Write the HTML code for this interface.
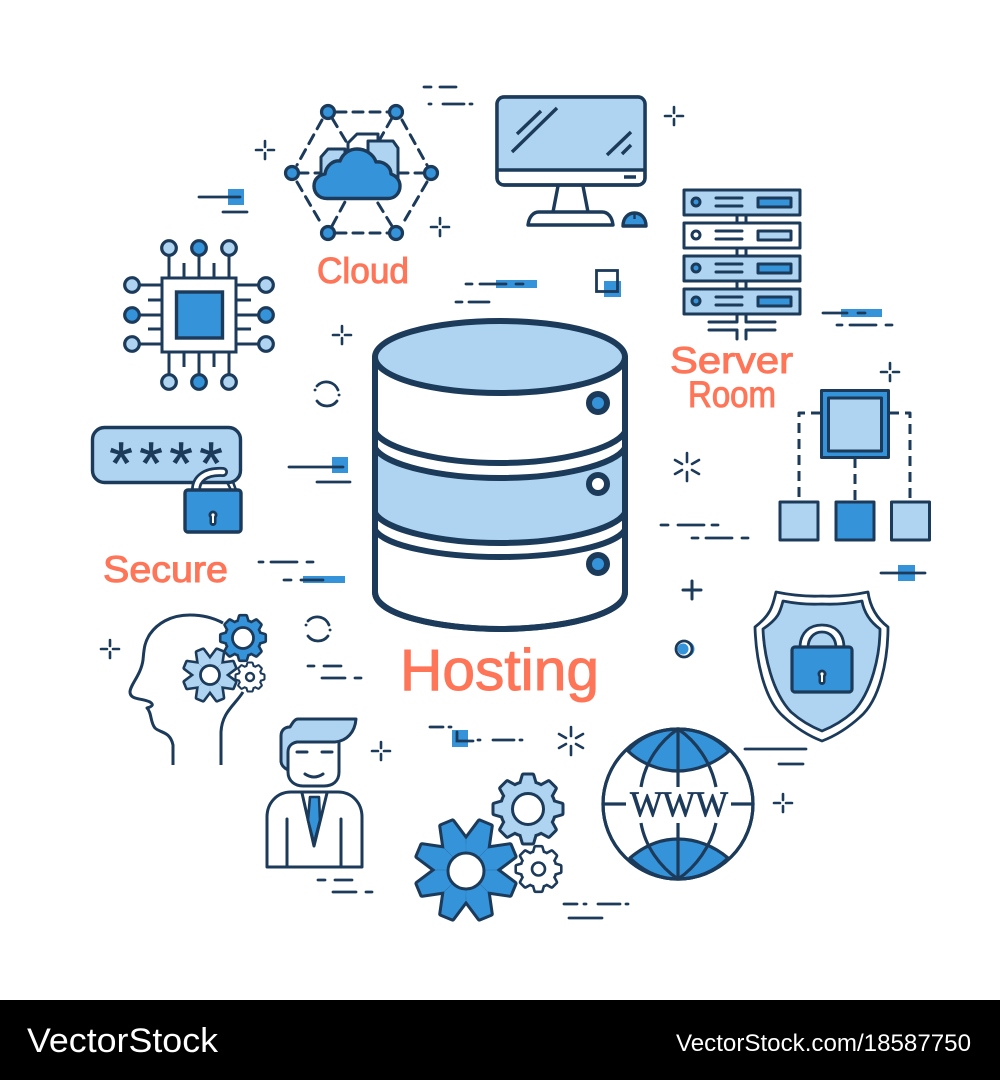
<!DOCTYPE html>
<html><head><meta charset="utf-8"><title>Hosting</title>
<style>html,body{margin:0;padding:0;background:#fff}svg{display:block}
.lbl{font-family:"Liberation Sans",sans-serif;fill:#fe7558;stroke:#fe7558;stroke-width:1}</style></head>
<body>
<svg xmlns="http://www.w3.org/2000/svg" width="1000" height="1080" viewBox="0 0 1000 1080">
<defs>
<polygon id="ts" points="0,0 -23,-56 -12,-99 12,-99 23,-56"/>
<polygon id="tc" points="0,0 -20,-76 -13,-100 13,-100 20,-76"/>
<g id="star" stroke-linejoin="round">
<use href="#ts" transform="rotate(22.5)"/><use href="#ts" transform="rotate(67.5)"/><use href="#ts" transform="rotate(112.5)"/><use href="#ts" transform="rotate(157.5)"/><use href="#ts" transform="rotate(202.5)"/><use href="#ts" transform="rotate(247.5)"/><use href="#ts" transform="rotate(292.5)"/><use href="#ts" transform="rotate(337.5)"/>
</g>
<g id="cog" stroke-linejoin="round">
<circle r="78"/>
<use href="#tc"/><use href="#tc" transform="rotate(45)"/><use href="#tc" transform="rotate(90)"/><use href="#tc" transform="rotate(135)"/><use href="#tc" transform="rotate(180)"/><use href="#tc" transform="rotate(225)"/><use href="#tc" transform="rotate(270)"/><use href="#tc" transform="rotate(315)"/>
</g>
<g id="pl" fill="none" stroke="#1c3a5a" stroke-width="2.6" stroke-linecap="round"><path d="M-9,0H-3M3,0H9M0,-9V-3M0,3V9"/></g>
<g id="sp" fill="none" stroke="#1c3a5a" stroke-width="2.6" stroke-linecap="round"><path d="M0,-14V-5M0,5V14M-12,-7L-5,-3M12,-7L5,-3M-12,7L-5,3M12,7L5,3"/></g>
<g id="kh"><circle cy="-3" r="4.5" fill="#1c3a5a"/><rect x="-3.5" y="-3" width="7" height="11" rx="3.5" fill="#1c3a5a"/><circle cy="-3" r="1.6" fill="#fff"/><rect x="-1" y="-3" width="2" height="8" fill="#fff"/></g>
</defs>
<rect width="1000" height="1080" fill="#fff"/>

<!-- database -->
<g stroke="#1c3a5a" stroke-width="6" fill="none" stroke-linejoin="round">
<path d="M375,357 V592 C375,615 440,629 500,629 C560,629 625,615 625,592 V357 Z" fill="#fff"/>
<path d="M375,448 C385,465 440,478 500,478 C560,478 615,465 625,448 V513 C615,530 560,543 500,543 C440,543 385,530 375,513 Z" fill="#aed4f2" stroke="none"/>
<path d="M375,432 C385,449 440,463 500,463 C560,463 615,449 625,432"/>
<path d="M375,448 C385,465 440,478 500,478 C560,478 615,465 625,448"/>
<path d="M375,513 C385,530 440,543 500,543 C560,543 615,530 625,513"/>
<path d="M375,530 C385,546 440,557 500,557 C560,557 615,546 625,530"/>
<path d="M375,357 V592 C375,615 440,629 500,629 C560,629 625,615 625,592 V357"/>
<ellipse cx="500" cy="357" rx="125" ry="36" fill="#aed4f2"/>
<circle cx="598" cy="403" r="9" fill="#3593da"/>
<circle cx="598" cy="484" r="9" fill="#fff"/>
<circle cx="598" cy="564" r="9" fill="#3593da"/>
</g>

<!-- monitor -->
<g stroke="#1c3a5a" stroke-width="3.4" fill="none" stroke-linejoin="round">
<rect x="497" y="97" width="148" height="88" rx="7" fill="#fff"/>
<path d="M498.700,170 V104 Q498.700,98.700 504,98.700 H638 Q643.300,98.700 643.300,104 V170 Z" fill="#aed4f2" stroke="none"/>
<rect x="497" y="97" width="148" height="88" rx="7"/>
<path d="M497,170H645M517,134L541,111M512,152L557,108M607,155L631,132M622,154L631,145M624,177H636M558,186L553,212M583,186L588,212"/>
<path d="M528,225 C529,217 533,212 539,212 H602 C608,212 612,217 613,225 Z" fill="#fff"/>
<path d="M623,226 C623,218 628,213 634.500,213 C641,213 646,218 646,226 Z" fill="#3593da"/>
<path d="M634.500,213V219" stroke-width="2.400"/>
</g>

<!-- cloud hex -->
<g stroke="#1c3a5a" stroke-width="3" fill="none" stroke-linecap="round" stroke-linejoin="round">
<g stroke-dasharray="10 7">
<path d="M336,112H390M336,233H390M322,120L297,165M297,182L322,225M402,120L427,165M427,182L402,225"/>
<path d="M332,118L350,148M392,118L376,146M298,173H330M425,173H395M332,226L346,200M392,226L376,200"/>
</g>
<path d="M321,185V157L328,149H345V185Z" fill="#aed4f2"/>
<path d="M348,150V143L357,134H378V150" fill="#fff"/>
<path d="M368,190V141H393L398,148V190Z" fill="#aed4f2"/>
<path d="M327,198.500 C318,198.500 314,192 314,186 C314,179 319,175 325,174 C326,166 333,160 340,161 C343,153 350,149 357,149 C366,149 374,155 376,162 C384,161 391,167 391,174 C397,176 400,181 400,186 C400,193 395,198.500 388,198.500 Z" fill="#3593da" stroke-width="3.400"/>
<g fill="#3593da" stroke-width="3.200">
<circle cx="328" cy="112" r="6.500"/><circle cx="396" cy="112" r="6.500"/><circle cx="292" cy="173" r="6.500"/><circle cx="431" cy="173" r="6.500"/><circle cx="328" cy="233" r="6.500"/><circle cx="396" cy="233" r="6.500"/>
</g>
</g>

<!-- chip -->
<g stroke="#1c3a5a" stroke-width="3" fill="none">
<path d="M169,255V278M199,255V278M229,255V278M184,263V278M214,263V278M169,352V375M199,352V375M229,352V375M184,352V367M214,352V367M139,285H162M139,315H162M139,344H162M148,300H162M148,329H162M236,285H259M236,315H259M236,344H259M236,300H251M236,329H251"/>
<rect x="162" y="278" width="74" height="74" fill="#fff"/>
<rect x="176.500" y="292" width="46" height="46" fill="#3593da" stroke-width="3.400"/>
<g fill="#aed4f2" stroke-width="3.200">
<circle cx="169" cy="248" r="7.300"/><circle cx="199" cy="248" r="7.300" fill="#3593da"/><circle cx="229" cy="248" r="7.300"/>
<circle cx="169" cy="382" r="7.300"/><circle cx="199" cy="382" r="7.300" fill="#3593da"/><circle cx="229" cy="382" r="7.300"/>
<circle cx="132" cy="285" r="7.300"/><circle cx="132" cy="315" r="7.300" fill="#3593da"/><circle cx="132" cy="344" r="7.300"/>
<circle cx="266" cy="285" r="7.300"/><circle cx="266" cy="315" r="7.300" fill="#3593da"/><circle cx="266" cy="344" r="7.300"/>
</g>
</g>

<!-- password -->
<rect x="92.500" y="427.500" width="148" height="55" rx="12" fill="#aed4f2" stroke="#1c3a5a" stroke-width="3.400"/>
<text x="121 151 181 211" y="484" font-family="Liberation Sans, sans-serif" font-size="60" fill="#1c3a5a" stroke="#1c3a5a" stroke-width=".6" text-anchor="middle">****</text>
<path d="M196,490 C196,479 205,471 223,472" fill="none" stroke="#1c3a5a" stroke-width="10" stroke-linecap="round"/>
<path d="M196,490 C196,479 205,471 223,472" fill="none" stroke="#fff" stroke-width="4.500" stroke-linecap="round"/>
<path d="M227,482L231,490M233,482L236,490" stroke="#1c3a5a" stroke-width="2.500"/>
<rect x="185" y="490" width="56" height="42" rx="3" fill="#3593da" stroke="#1c3a5a" stroke-width="3.400"/>
<use href="#kh" x="213" y="518"/>

<!-- server rack -->
<g stroke="#1c3a5a" stroke-width="3" fill="none" stroke-linejoin="round" stroke-linecap="round">
<path d="M737,215V222M746,215V222M737,248V255M746,248V255M737,281V288M746,281V288"/>
<path d="M709,322H737V314M709,330H737V339M775,322H746V314M775,330H746V339"/>
<rect x="684" y="190" width="116" height="25" fill="#aed4f2"/>
<rect x="684" y="223" width="116" height="25" fill="#fff"/>
<rect x="684" y="256" width="116" height="25" fill="#aed4f2"/>
<rect x="684" y="289" width="116" height="25" fill="#aed4f2"/>
<path d="M716,198H742M716,206H742M716,231H742M716,239H742M716,264H742M716,272H742M716,297H742M716,305H742"/>
<g fill="#3593da"><circle cx="696" cy="202" r="4"/><circle cx="696" cy="268" r="4"/><circle cx="696" cy="301" r="4"/><rect x="758" y="198" width="33" height="9"/><rect x="758" y="264" width="33" height="9"/><rect x="758" y="297" width="33" height="9"/></g>
<circle cx="696" cy="235" r="4" fill="#fff"/><rect x="758" y="231" width="33" height="9" fill="#aed4f2"/>
</g>

<!-- org chart -->
<g stroke="#1c3a5a" stroke-width="3" fill="none" stroke-linejoin="round">
<path d="M821,413H799V501M855,458V501M889,413H910V501" stroke-dasharray="10 6"/>
<rect x="821.500" y="390.500" width="67" height="67" fill="#3593da"/>
<rect x="828.500" y="398" width="53" height="53" fill="#aed4f2"/>
<rect x="780" y="502" width="38" height="38" fill="#aed4f2"/>
<rect x="836" y="502" width="38" height="38" fill="#3593da"/>
<rect x="891.500" y="502" width="38" height="38" fill="#aed4f2"/>
</g>

<!-- head -->
<g stroke="#1c3a5a" stroke-width="3" fill="none" stroke-linejoin="round">
<path d="M223,623 C212,617 200,615 190,615 C170,615 157,624 150,634 C144,643 144,650 143,660 C141,675 130,685 130,692 C130,700 142,698 150,702 C153,704 154,706 147,708 C152,713 150,722 155,728 C160,733 170,731 173,745 V765"/>
<path d="M243,692 C235,705 222,712 221,732 V765"/>
</g>
<use href="#cog" transform="translate(243,638) scale(.215)" fill="#1c3a5a" stroke="#1c3a5a" stroke-width="24"/>
<use href="#cog" transform="translate(243,638) scale(.215)" fill="#3593da"/>
<circle cx="243" cy="638" r="10.500" fill="#fff" stroke="#1c3a5a" stroke-width="2.800"/>
<use href="#star" transform="translate(210,675) scale(.26)" fill="#1c3a5a" stroke="#1c3a5a" stroke-width="20"/>
<use href="#star" transform="translate(210,675) scale(.26)" fill="#aed4f2"/>
<circle cx="210" cy="675" r="9.500" fill="#fff" stroke="#1c3a5a" stroke-width="2.800"/>
<use href="#cog" transform="translate(250,677) scale(.135)" fill="#1c3a5a" stroke="#1c3a5a" stroke-width="30"/>
<use href="#cog" transform="translate(250,677) scale(.135)" fill="#fff"/>
<circle cx="250" cy="677" r="4" fill="#fff" stroke="#1c3a5a" stroke-width="2.400"/>

<!-- man -->
<g stroke="#1c3a5a" stroke-width="3" fill="none" stroke-linejoin="round" stroke-linecap="round">
<path d="M288,745 V772 C288,781 295,786 303,786 H324 C333,786 339,781 339,772 V741" fill="#fff"/>
<path d="M298,719 H356 C355,732 347,741 335,742 H297 C292,743 288,746 288,752 V770 C284,768 281,765 281,761 V736 C281,730 285,727 290,727 C293,722 295,719 298,719 Z" fill="#aed4f2"/>
<path d="M297,752H307M322,752H332M305,774Q314,780 323,774"/>
<path d="M267,867 V817 C267,803 277,792 291,792 H338 C352,792 362,803 362,817 V867 Z" fill="#fff"/>
<path d="M302,793L314,846L327,793"/>
<path d="M310,797H319L320,820L314,843L308,820Z" fill="#3593da" stroke-width="2.600"/>
<path d="M287,819V866M341,819V866"/>
</g>

<!-- gears -->
<use href="#cog" transform="translate(528,809) scale(.335)" fill="#1c3a5a" stroke="#1c3a5a" stroke-width="18"/>
<use href="#cog" transform="translate(528,809) scale(.335)" fill="#aed4f2"/>
<circle cx="528" cy="809" r="15.500" fill="#fff" stroke="#1c3a5a" stroke-width="3"/>
<use href="#star" transform="translate(466,870) scale(.505)" fill="#1c3a5a" stroke="#1c3a5a" stroke-width="12"/>
<use href="#star" transform="translate(466,870) scale(.505)" fill="#3593da"/>
<circle cx="466" cy="871" r="18" fill="#fff" stroke="#1c3a5a" stroke-width="3"/>
<use href="#cog" transform="translate(538.500,869) scale(.215)" fill="#1c3a5a" stroke="#1c3a5a" stroke-width="24"/>
<use href="#cog" transform="translate(538.500,869) scale(.215)" fill="#fff"/>
<circle cx="538.500" cy="869" r="6.500" fill="#fff" stroke="#1c3a5a" stroke-width="2.600"/>

<!-- globe -->
<g stroke="#1c3a5a" stroke-width="3.200" fill="none" stroke-linejoin="round">
<circle cx="678" cy="804" r="75" fill="#fff"/>
<path d="M628,751 C640,763 660,771 678,771 C696,771 716,763 729,751 C716,737 698,729 678,729 C658,729 640,737 628,751 Z" fill="#3593da"/>
<path d="M630,858 C644,846 660,839 678,839 C696,839 714,846 728,858 C714,872 696,879 678,879 C660,879 644,872 630,858 Z" fill="#3593da"/>
<path d="M678,729V787M678,823V879M604,804H626M731,804H753"/>
<path d="M678,729 C660,741 645,762 641,787M641,823 C645,846 660,867 678,879M678,729 C696,741 711,762 716,787M716,823 C711,846 696,867 678,879"/>
<circle cx="678" cy="804" r="75"/>
</g>
<text x="679" y="816" font-family="Liberation Serif, serif" font-size="36" fill="#1c3a5a" text-anchor="middle" textLength="98" lengthAdjust="spacingAndGlyphs" stroke="#1c3a5a" stroke-width=".7">WWW</text>

<!-- shield -->
<g stroke="#1c3a5a" stroke-width="2.800" fill="none" stroke-linejoin="round">
<path d="M776,592 Q800,597 822,596 Q844,597 868,592 Q871,614 888,627 C888,660 880,700 860,717 C848,728 835,736 822,741 C809,736 796,728 784,717 C764,700 756,660 755,627 C772,614 773,604 776,592 Z" fill="#fff"/>
<path d="M783,601 Q803,605 822,604 Q841,605 862,601 Q865,618 880,629 C880,655 872,692 853,712 C844,720 832,727 822,731 C812,727 800,720 791,712 C772,692 764,655 763,629 C779,618 780,612 783,601 Z" fill="#aed4f2"/>
<path d="M800,648 C800,632 810,625 822,625 C834,625 844,632 844,648" fill="#fff"/>
<path d="M808,648 C808,638 814,632 822,632 C830,632 836,638 836,648" fill="#aed4f2"/>
<rect x="792" y="647" width="60" height="45" rx="3" fill="#3593da" stroke-width="3.200"/>
</g>
<use href="#kh" x="822" y="677"/>

<!-- plus / sparks -->
<use href="#pl" x="265" y="150"/><use href="#pl" x="440" y="227"/><use href="#pl" x="342" y="335"/><use href="#pl" x="674" y="116"/><use href="#pl" x="890" y="372"/><use href="#pl" x="110" y="649"/><use href="#pl" x="381" y="751"/><use href="#pl" x="783" y="803"/>
<path d="M683,590H701M692,581V599" stroke="#1c3a5a" stroke-width="3" stroke-linecap="round"/>
<use href="#sp" x="687" y="467"/><use href="#sp" x="571" y="741"/>

<!-- blue accents -->
<g fill="#3593da">
<rect x="228" y="189" width="16" height="16"/>
<rect x="332" y="457" width="16" height="16"/>
<rect x="496" y="280" width="41" height="8"/>
<rect x="604" y="281" width="17" height="16"/>
<rect x="841" y="309" width="41" height="8"/>
<rect x="898" y="565" width="17" height="16"/>
<rect x="303" y="576" width="42" height="7"/>
<rect x="452" y="730" width="16" height="17"/>
</g>
<circle cx="686.500" cy="649" r="8" fill="#3593da"/>
<circle cx="684" cy="649" r="8" fill="#fff" stroke="#1c3a5a" stroke-width="2.800"/>
<circle cx="683" cy="649" r="5.500" fill="#3593da"/>

<!-- dashes -->
<g fill="none" stroke="#1c3a5a" stroke-width="2.800" stroke-linecap="round">
<path d="M424,87H431M440,87H456M429,104H431M443,104H464M470,104H472"/>
<path d="M199,197H240M223,212H247"/>
<path d="M289,467H343M317,482H350"/>
<path d="M466,284H472M480,284H506M516,284H523M456,302H462M469,302H489"/>
<rect x="596.500" y="270.500" width="21" height="21"/>
<path d="M823,313H847M858,313H865M837,325H842M850,325H876M886,325H892"/>
<path d="M661,525H668M678,525H704M712,525H718M692,538H698M706,538H732M742,538H748"/>
<path d="M881,573H925"/>
<path d="M259,562H263M271,562H297M307,562H313M284,580H291M301,580H323"/>
<path d="M308,666H314M324,666H341M322,678H345M355,678H361"/>
<path d="M318,880H325M335,880H352M333,892H356M366,892H372"/>
<path d="M430,727H443M449,727H451M457,732V741H473M478,740H480M493,740H514M520,740H522"/>
<path d="M564,904H577M584,904H586M598,904H620M626,904H628M569,918H602"/>
<path d="M745,749H806M779,764H803"/>
<path d="M317,386A12.500,12.500 0 0 1 338,390M339,395h.1M337,401A12.500,12.500 0 0 1 317,401M315,390h.1"/>
<path d="M308,621A12.500,12.500 0 0 1 329,625M330,630h.1M328,636A12.500,12.500 0 0 1 308,636M306,625h.1"/>
</g>

<!-- labels -->
<text class="lbl" x="317" y="283" font-size="36" textLength="92" lengthAdjust="spacingAndGlyphs">Cloud</text>
<text class="lbl" x="670" y="373" font-size="37" textLength="123" lengthAdjust="spacingAndGlyphs">Server</text>
<text class="lbl" x="688" y="407" font-size="37" textLength="88" lengthAdjust="spacingAndGlyphs">Room</text>
<text class="lbl" x="103" y="582" font-size="37" textLength="125" lengthAdjust="spacingAndGlyphs">Secure</text>
<text class="lbl" x="400" y="690" font-size="58" textLength="199" lengthAdjust="spacingAndGlyphs">Hosting</text>

<!-- footer -->
<rect x="0" y="1000" width="1000" height="80" fill="#000"/>
<text x="27" y="1052" font-family="Liberation Sans, sans-serif" font-size="34.500" fill="#fff" textLength="191" lengthAdjust="spacingAndGlyphs">VectorStock</text>
<text x="676" y="1051" font-family="Liberation Sans, sans-serif" font-size="24" fill="#fff" textLength="295" lengthAdjust="spacingAndGlyphs">VectorStock.com/18587750</text>
</svg>
</body></html>
